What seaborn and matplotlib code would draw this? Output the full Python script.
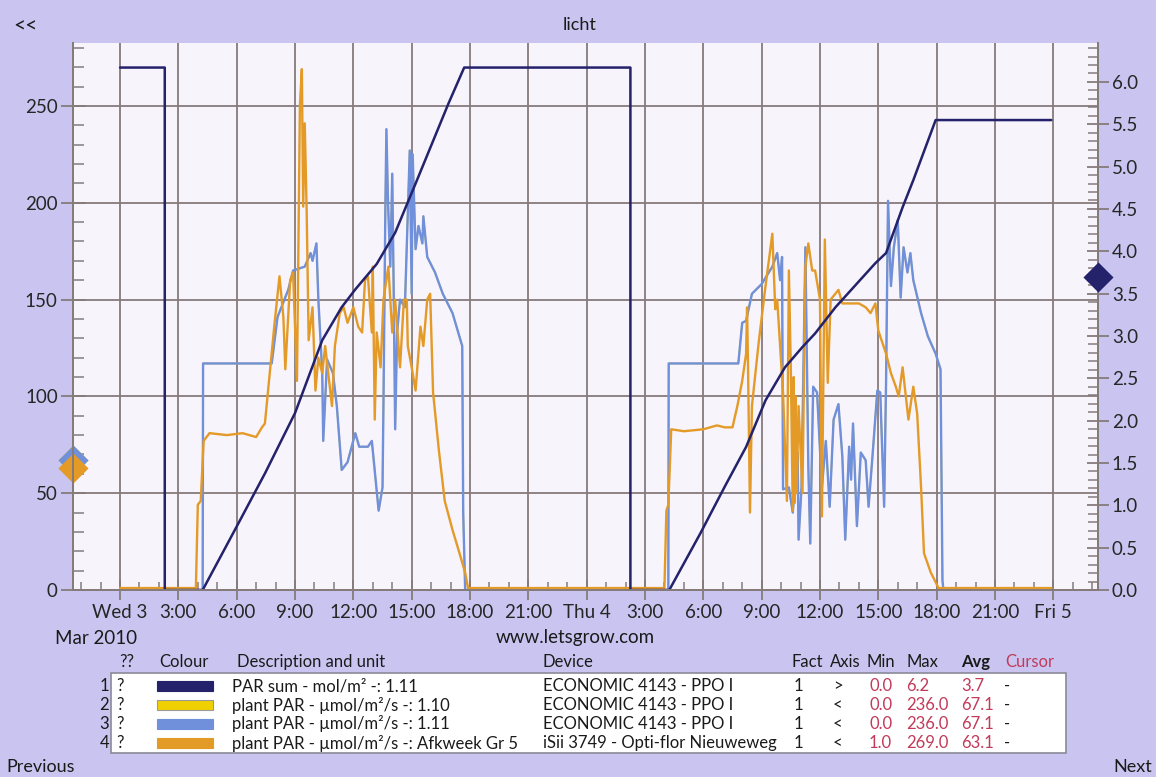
# licht – PAR sum and plant PAR, Wed 3 – Fri 5 Mar 2010 (letsgrow.com export)

import seaborn as sns
import matplotlib.pyplot as plt
from matplotlib.patches import Rectangle
from matplotlib.ticker import MultipleLocator, FormatStrFormatter

# -------------------- data (hours since Wed 3 Mar 2010 00:00) --------------------
# 1: PAR sum - mol/m2 (right axis)
sum_t = [0, 2.3, 2.3, 4.25, 6.0, 7.46, 9.0, 10.4, 11.4, 12.1, 13.2, 14.15, 15.2, 16.9, 17.7,
         26.25, 26.25, 28.25, 29.85, 31.1, 32.2, 33.2, 34.2, 35.1, 35.75, 36.8,
         38.85, 39.4, 40.25, 40.8, 41.95, 47.9]
sum_v = [6.17, 6.17, 0, 0, 0.75, 1.38, 2.09, 2.95, 3.34, 3.55, 3.85, 4.22, 4.8, 5.75, 6.17,
         6.17, 0, 0, 0.67, 1.22, 1.69, 2.24, 2.63, 2.87, 3.03, 3.34,
         3.86, 3.98, 4.52, 4.84, 5.55, 5.55]

# 3: plant PAR 1.11 (left axis)
blue_t = [0, 4.25, 4.27, 7.8, 8.1, 8.65, 8.9, 9.5, 9.8, 9.9, 10.1, 10.2, 10.4, 10.45,
          10.65, 10.95, 11.15, 11.4, 11.7, 12.1, 12.3, 12.75, 12.95, 13.3, 13.5, 13.55,
          13.65, 13.7, 13.78, 13.9, 14.0, 14.08, 14.15, 14.25, 14.4, 14.65, 14.9, 15.0,
          15.05, 15.2, 15.35, 15.55, 15.6, 15.8, 16.2, 16.6, 17.1, 17.6, 17.65, 17.75,
          28.2, 28.22, 31.8, 32.0, 32.2, 32.5, 33.0, 33.55, 33.8, 33.95, 34.05, 34.1,
          34.4, 34.6, 34.85, 34.9, 35.05, 35.25, 35.4, 35.5, 35.65, 35.85, 36.1, 36.3,
          36.5, 36.7, 36.95, 37.15, 37.3, 37.5, 37.6, 37.7, 37.9, 38.1, 38.35, 38.5,
          38.7, 38.95, 39.1, 39.3, 39.4, 39.5, 39.65, 39.8, 40.0, 40.15, 40.3, 40.5,
          40.65, 40.8, 41.2, 41.55, 41.95, 42.2, 42.3, 42.35, 47.9]
blue_v = [0, 0, 117, 117, 141, 155, 165, 167, 174, 170, 179, 150, 112, 77,
          119, 112, 95, 62, 66, 81, 74, 74, 77, 41, 53, 98,
          201, 238, 201, 167, 215, 150, 83, 133, 150, 146, 227, 153,
          225, 176, 188, 179, 193, 172, 164, 153, 143, 126, 40, 0,
          0, 117, 117, 138, 139, 153, 158, 167, 174, 160, 172, 52,
          53, 40, 71, 26, 53, 177, 64, 24, 105, 102, 53, 77,
          43, 88, 96, 69, 26, 74, 57, 86, 33, 71, 67, 43,
          69, 103, 102, 43, 108, 201, 157, 177, 191, 151, 177, 164,
          174, 160, 143, 131, 122, 114, 5, 0, 0]

# 2: plant PAR 1.10 – same readings as 1.11 (hidden under it)
yellow_t = list(blue_t)
yellow_v = list(blue_v)

# 4: plant PAR Afkweek Gr 5 (left axis)
orange_t = [0, 3.9, 4.0, 4.15, 4.3, 4.6, 5.5, 6.3, 7.0, 7.3, 7.45, 7.7, 7.95, 8.2,
            8.4, 8.5, 8.75, 8.9, 9.1, 9.25, 9.35, 9.42, 9.5, 9.6, 9.7, 9.9, 10.05,
            10.2, 10.4, 10.55, 10.9, 11.05, 11.3, 11.5, 11.7, 12.0, 12.25, 12.45, 12.6,
            12.75, 12.95, 13.0, 13.1, 13.2, 13.4, 13.55, 13.8, 14.0, 14.15, 14.4, 14.6,
            14.75, 14.8, 15.0, 15.2, 15.45, 15.6, 15.8, 15.95, 16.1, 16.4, 16.7, 17.1,
            17.4, 17.75, 17.9,
            28.0, 28.1, 28.2, 28.35, 29.0, 30.0, 30.7, 31.1, 31.5, 31.75, 32.0, 32.2,
            32.25, 32.3, 32.4, 32.5, 32.85, 33.2, 33.55, 33.7, 33.8, 34.1, 34.3, 34.4,
            34.5, 34.6, 34.65, 34.7, 34.75, 34.8, 34.9, 35.1, 35.25, 35.4, 35.6, 35.75,
            36.0, 36.1, 36.25, 36.4, 36.55, 36.95, 37.15, 38.0, 38.35, 38.6, 38.85,
            39.0, 39.4, 39.65, 39.9, 40.05, 40.25, 40.55, 40.8, 41.0, 41.2, 41.35,
            41.7, 41.95, 42.1, 47.9]
orange_v = [1, 1, 44, 46, 77, 81, 80, 81, 79, 84, 86, 112, 138, 162,
            141, 114, 160, 164, 108, 250, 269, 198, 241, 195, 129, 146, 103,
            120, 112, 126, 95, 126, 143, 146, 138, 146, 136, 133, 160,
            162, 133, 167, 88, 133, 115, 150, 167, 133, 150, 115, 150,
            150, 126, 115, 103, 136, 126, 150, 153, 102, 72, 46, 31,
            21, 9, 1,
            1, 41, 44, 83, 82, 83, 85, 84, 84, 95, 108, 122,
            146, 115, 40, 95, 128, 157, 184, 145, 150, 102, 46, 165,
            115, 41, 110, 45, 100, 50, 95, 50, 167, 179, 165, 165,
            150, 38, 181, 107, 150, 155, 148, 148, 146, 143, 148,
            134, 122, 112, 105, 100, 115, 88, 105, 91, 53, 19,
            9, 4, 1, 1]

# table values
row_desc = ["PAR sum - mol/m² -: 1.11",
            "plant PAR - µmol/m²/s -: 1.10",
            "plant PAR - µmol/m²/s -: 1.11",
            "plant PAR - µmol/m²/s -: Afkweek Gr 5"]
row_device = ["ECONOMIC 4143 - PPO I", "ECONOMIC 4143 - PPO I",
              "ECONOMIC 4143 - PPO I", "iSii 3749 - Opti-flor Nieuweweg"]
row_fact = ["1", "1", "1", "1"]
row_axis = [">", "<", "<", "<"]
row_min = [0.0, 0.0, 0.0, 1.0]
row_max = [6.2, 236.0, 236.0, 269.0]
row_avg = [3.7, 67.1, 67.1, 63.1]

xtick_pos = [0, 3, 6, 9, 12, 15, 18, 21, 24, 27, 30, 33, 36, 39, 42, 45, 48]
xtick_lab = ["Wed 3", "3:00", "6:00", "9:00", "12:00", "15:00", "18:00", "21:00",
             "Thu 4", "3:00", "6:00", "9:00", "12:00", "15:00", "18:00", "21:00", "Fri 5"]

# -------------------- style --------------------
BG = "#c9c5f0"
PLOT_BG = "#f7f4fc"
GRID = "#857b7b"
NAVY = "#23226b"
YELLOW = "#f0d000"
BLUE = "#7090dc"
ORANGE = "#e49a26"
RED = "#c23a5a"
colors = [NAVY, YELLOW, BLUE, ORANGE]

sns.set_style("ticks")
plt.rcParams['font.family'] = ['Lato', 'DejaVu Sans']
plt.rcParams['text.color'] = "#1a1a1a"

W, H = 1156, 777
fig = plt.figure(figsize=(W / 100, H / 100), dpi=100, facecolor=BG)


def fx(px):
    return px / W


def fy(py):
    return 1 - py / H


ax = fig.add_axes([fx(73), fy(590), fx(1098) - fx(73), fy(43) - fy(590)])
ax.set_facecolor(PLOT_BG)
ax2 = ax.twinx()

# -------------------- lines --------------------
sns.lineplot(x=yellow_t, y=yellow_v, ax=ax, color=YELLOW, lw=1.2,
             estimator=None, sort=False, legend=False)
sns.lineplot(x=blue_t, y=blue_v, ax=ax, color=BLUE, lw=1.7,
             estimator=None, sort=False, legend=False)
sns.lineplot(x=orange_t, y=orange_v, ax=ax, color=ORANGE, lw=1.7,
             estimator=None, sort=False, legend=False)
sns.lineplot(x=sum_t, y=sum_v, ax=ax2, color=NAVY, lw=1.8,
             estimator=None, sort=False, legend=False)

xmin, xmax = -2.42, 50.3
ax.set_xlim(xmin, xmax)
ax.set_ylim(0, 282.5)
ax2.set_ylim(0, 6.46)

# average markers on the axes
for i in range(1, 4):
    ax.scatter([xmin], [row_avg[i]], marker="D", s=235, color=colors[i],
               clip_on=False, zorder=10, linewidths=0)
ax2.scatter([xmax], [row_avg[0]], marker="D", s=235, color=NAVY,
            clip_on=False, zorder=10, linewidths=0)

# -------------------- axes & grid --------------------
ax.set_xticks(xtick_pos)
ax.set_xticklabels(xtick_lab)
ax.xaxis.set_minor_locator(MultipleLocator(1))
ax.yaxis.set_major_locator(MultipleLocator(50))
ax.yaxis.set_minor_locator(MultipleLocator(10))
ax2.yaxis.set_major_locator(MultipleLocator(0.5))
ax2.yaxis.set_minor_locator(MultipleLocator(0.1))
ax2.yaxis.set_major_formatter(FormatStrFormatter("%.1f"))
ax.grid(which="major", color=GRID, lw=1.3)
ax2.grid(False)
ax.set_xlabel("")
ax.set_ylabel("")
ax2.set_ylabel("")

for a in (ax, ax2):
    for s in a.spines.values():
        s.set_color(GRID)
        s.set_linewidth(1.4)
ax.spines["top"].set_visible(False)
ax2.spines["top"].set_visible(False)

ax.tick_params(axis="x", which="major", direction="inout", length=14, width=1.3,
               color=GRID, labelsize=13.5, pad=3)
ax.tick_params(axis="x", which="minor", direction="in", length=6, width=1.1, color=GRID)
ax.tick_params(axis="y", which="major", direction="inout", length=18, width=1.3,
               color=GRID, labelsize=13.5, pad=2)
ax.tick_params(axis="y", which="minor", direction="in", length=8, width=1.1, color=GRID)
ax2.tick_params(axis="y", which="major", direction="inout", length=16, width=1.3,
                color=GRID, labelsize=13.5, pad=2)
ax2.tick_params(axis="y", which="minor", direction="in", length=7, width=1.1, color=GRID)

# -------------------- page texts --------------------
fig.text(fx(580), fy(25), "licht", ha="center", va="center", fontsize=13)
fig.text(fx(13), fy(27), "<<", ha="left", va="center", fontsize=15)
fig.text(fx(55), fy(638), "Mar 2010", ha="left", va="center", fontsize=13.5)
fig.text(fx(575), fy(637), "www.letsgrow.com", ha="center", va="center", fontsize=13.5)
fig.text(fx(6), fy(767), "Previous", ha="left", va="center", fontsize=13)
fig.text(fx(1152), fy(767), "Next", ha="right", va="center", fontsize=13)

# -------------------- legend table --------------------
fig.patches.append(Rectangle((fx(111), fy(753)), fx(1066) - fx(111), fy(673) - fy(753),
                             transform=fig.transFigure, facecolor="white",
                             edgecolor="#8a8a9a", lw=1.2))
hy = fy(662)
fs = 12
fig.text(fx(127), hy, "??", ha="center", va="center", fontsize=fs)
fig.text(fx(184), hy, "Colour", ha="center", va="center", fontsize=fs)
fig.text(fx(237), hy, "Description and unit", ha="left", va="center", fontsize=fs)
fig.text(fx(543), hy, "Device", ha="left", va="center", fontsize=fs)
fig.text(fx(792), hy, "Fact", ha="left", va="center", fontsize=fs)
fig.text(fx(830), hy, "Axis", ha="left", va="center", fontsize=fs)
fig.text(fx(866), hy, "Min", ha="left", va="center", fontsize=fs)
fig.text(fx(906), hy, "Max", ha="left", va="center", fontsize=fs)
fig.text(fx(961), hy, "Avg", ha="left", va="center", fontsize=fs, fontweight="bold")
fig.text(fx(1005), hy, "Cursor", ha="left", va="center", fontsize=fs, color=RED)

row_y = [686, 705, 724, 743]
for i, py in enumerate(row_y):
    y = fy(py)
    fig.text(fx(109), y, str(i + 1), ha="right", va="center", fontsize=fs)
    fig.text(fx(116), y, "?", ha="left", va="center", fontsize=fs)
    fig.patches.append(Rectangle((fx(157), fy(py + 5)), fx(213) - fx(157), fy(py - 5) - fy(py + 5),
                                 transform=fig.transFigure, facecolor=colors[i],
                                 edgecolor="#9a9a9a" if i == 1 else colors[i], lw=0.8))
    fig.text(fx(232), y, row_desc[i], ha="left", va="center", fontsize=fs)
    fig.text(fx(543), y, row_device[i], ha="left", va="center", fontsize=fs)
    fig.text(fx(794), y, row_fact[i], ha="left", va="center", fontsize=fs)
    fig.text(fx(833), y, row_axis[i], ha="left", va="center", fontsize=fs)
    fig.text(fx(869), y, f"{row_min[i]:.1f}", ha="left", va="center", fontsize=fs, color=RED)
    fig.text(fx(906), y, f"{row_max[i]:.1f}", ha="left", va="center", fontsize=fs, color=RED)
    fig.text(fx(961), y, f"{row_avg[i]:.1f}", ha="left", va="center", fontsize=fs, color=RED)
    fig.text(fx(1004), y, "-", ha="left", va="center", fontsize=fs)

fig.savefig("out.png", dpi=100, facecolor=BG)
